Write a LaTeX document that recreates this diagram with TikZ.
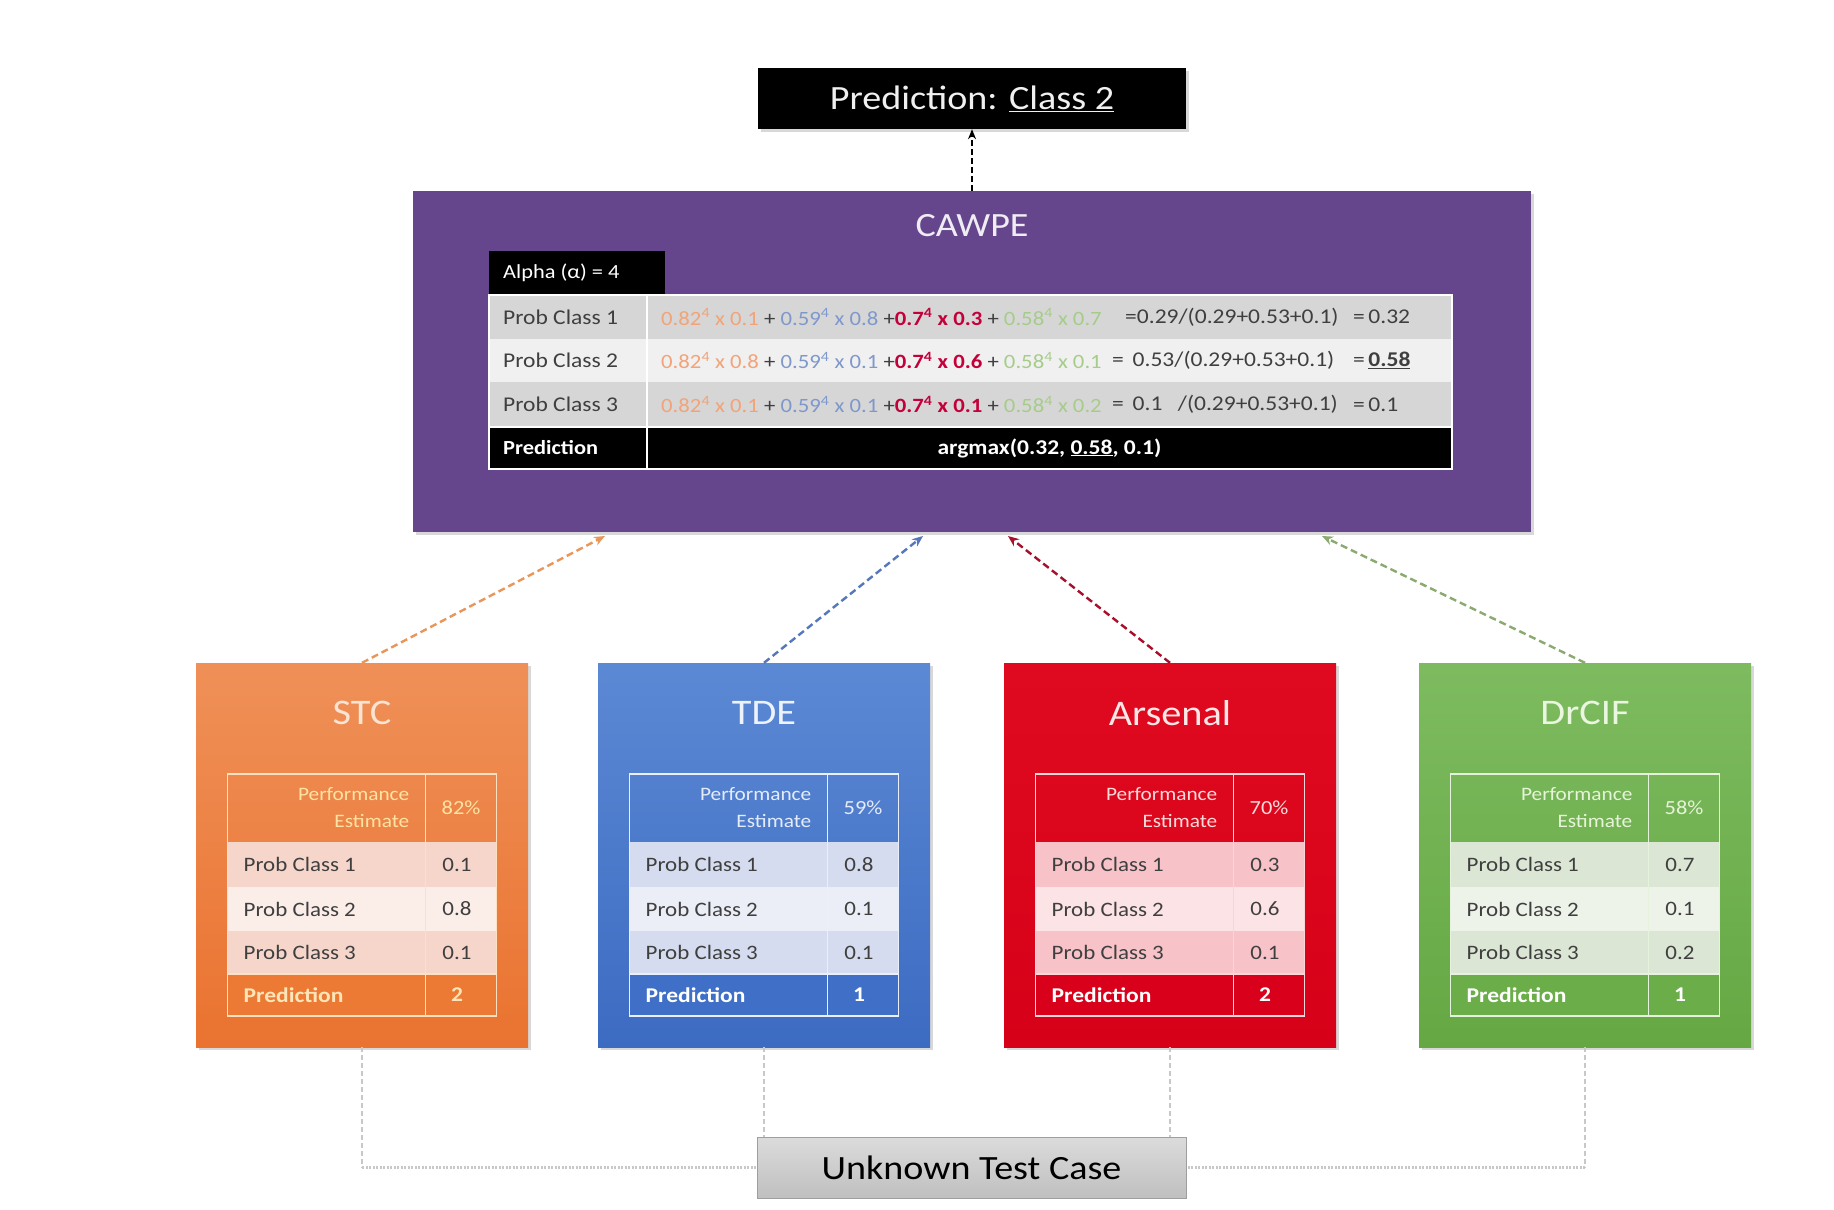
\documentclass[tikz,border=0pt]{standalone}
\usepackage{fontspec}
\setmainfont{Carlito}[FakeStretch=1.12]
\usetikzlibrary{arrows.meta,shadows,calc}

\definecolor{purp}{HTML}{65458B}
\definecolor{txtgray}{HTML}{3F3F3F}
\definecolor{cg1}{HTML}{D6D6D6}
\definecolor{cg2}{HTML}{F0F0F0}
\definecolor{corange}{HTML}{F2A378}
\definecolor{cblue}{HTML}{7F98CC}
\definecolor{cred}{HTML}{C4003A}
\definecolor{cgreen}{HTML}{A6CC8A}
% STC
\definecolor{stctop}{HTML}{EF9058}
\definecolor{stcbot}{HTML}{EA7330}
\definecolor{stcttl}{HTML}{FBE3D3}
\definecolor{stchd}{HTML}{FFE3A3}
\definecolor{stcln}{HTML}{FCE0C0}
\definecolor{stcra}{HTML}{F6D6CB}
\definecolor{stcrb}{HTML}{FBEDE8}
\definecolor{stcpr}{HTML}{EC7A34}
\definecolor{stcpt}{HTML}{FFE5B8}
% TDE
\definecolor{tdetop}{HTML}{5C89D4}
\definecolor{tdebot}{HTML}{3C6BC2}
\definecolor{tdettl}{HTML}{EEF2FB}
\definecolor{tdehd}{HTML}{E4ECFA}
\definecolor{tdeln}{HTML}{EAF0FB}
\definecolor{tdera}{HTML}{D5DCEF}
\definecolor{tderb}{HTML}{EBEEF7}
\definecolor{tdepr}{HTML}{3F6FC6}
\definecolor{tdept}{HTML}{FFFFFF}
% Arsenal
\definecolor{arstop}{HTML}{E00A20}
\definecolor{arsbot}{HTML}{D60018}
\definecolor{arsttl}{HTML}{FCE6E6}
\definecolor{arshd}{HTML}{FBDADA}
\definecolor{arsln}{HTML}{FAD4D7}
\definecolor{arsra}{HTML}{F7C3C8}
\definecolor{arsrb}{HTML}{FCE3E5}
\definecolor{arspr}{HTML}{D8001B}
\definecolor{arspt}{HTML}{FFFFFF}
% DrCIF
\definecolor{drctop}{HTML}{7EBB60}
\definecolor{drcbot}{HTML}{65A843}
\definecolor{drcttl}{HTML}{EAF6E0}
\definecolor{drchd}{HTML}{E6F4D8}
\definecolor{drcln}{HTML}{E6F3DC}
\definecolor{drcra}{HTML}{DCE6D4}
\definecolor{drcrb}{HTML}{EEF3EA}
\definecolor{drcpr}{HTML}{6BAE49}
\definecolor{drcpt}{HTML}{FFFFFF}
% connectors
\definecolor{aorange}{HTML}{E8965A}
\definecolor{ablue}{HTML}{5577BB}
\definecolor{ared}{HTML}{A8102A}
\definecolor{agreen}{HTML}{8BAA70}
\definecolor{lgray}{HTML}{C8C8C8}

\newcommand\terms[4]{{\color{corange}0.82\textsuperscript{4} x #1} + {\color{cblue}0.59\textsuperscript{4} x #2} +{\color{cred}\bfseries 0.7\textsuperscript{4} x #3} + {\color{cgreen}0.58\textsuperscript{4} x #4}}

% #1 name #2 centre x #3 colour prefix #4 title #5 pct #6 p1 #7 p2 #8 p3 #9 pred
\newcommand\clf[9]{%
  \node[clfbox, top color=#3top, bottom color=#3bot] (#1) at (#2,855) {};
  \node[clftitle, text=#3ttl] (#1t) at (#2,713) {#4};
  \fill[#3ra] (#2-134.5,842) rectangle (#2+134.5,887);
  \fill[#3rb] (#2-134.5,887) rectangle (#2+134.5,931);
  \fill[#3ra] (#2-134.5,931) rectangle (#2+134.5,974);
  \fill[#3pr] (#2-134.5,974) rectangle (#2+134.5,1016);
  \draw[#3ln, line width=1.5] (#2-134.5,774) rectangle (#2+134.5,1016)
     (#2+63.5,774) -- (#2+63.5,1016) (#2-134.5,974) -- (#2+134.5,974);
  \node[perf, text=#3hd] (#1pe) at (#2+47.5,808) {Performance\\Estimate};
  \node[pct, text=#3hd] (#1pc) at (#2+99,808) {#5};
  \node[rowlbl] (#1l1) at (#2-118.5,864.5) {Prob Class 1};
  \node[rowlbl] (#1l2) at (#2-118.5,909) {Prob Class 2};
  \node[rowlbl] (#1l3) at (#2-118.5,952.5) {Prob Class 3};
  \node[rowval] (#1v1) at (#2+95,864.5) {#6};
  \node[rowval] (#1v2) at (#2+95,909) {#7};
  \node[rowval] (#1v3) at (#2+95,952.5) {#8};
  \node[predlbl, text=#3pt] (#1pl) at (#2-118.5,995) {Prediction};
  \node[predval, text=#3pt] (#1pv) at (#2+95,995) {#9};
}

\begin{document}
\begin{tikzpicture}[x=1pt,y=-1pt,
  clfbox/.style={minimum width=332, minimum height=384, inner sep=0,
    drop shadow={opacity=0.3, shadow xshift=3pt, shadow yshift=-3pt}},
  clftitle/.style={font=\fontsize{36}{40}\selectfont, inner sep=0},
  perf/.style={font=\fontsize{19}{27}\selectfont, align=right, anchor=east, inner sep=0},
  pct/.style={font=\fontsize{20}{24}\selectfont, inner sep=0},
  rowlbl/.style={font=\fontsize{20.5}{24}\selectfont, text=txtgray, anchor=west, inner sep=0},
  rowval/.style={font=\fontsize{20.5}{24}\selectfont, text=txtgray, inner sep=0},
  predlbl/.style={font=\bfseries\fontsize{21}{24}\selectfont, anchor=west, inner sep=0},
  predval/.style={font=\bfseries\fontsize{21}{24}\selectfont, inner sep=0},
  ftxt/.style={font=\fontsize{21}{24}\selectfont, text=txtgray, anchor=west, inner sep=0},
  fterm/.style={ftxt, font=\fontsize{20.3}{24}\selectfont},
  arr/.style={line width=2.4, dash pattern=on 7pt off 4pt, -{Stealth[length=11pt,width=9pt]}},
  vline/.style={draw=lgray, line width=1.2, dash pattern=on 5pt off 3pt},
  hline/.style={draw=lgray, line width=3.5, dash pattern=on 2pt off 1.5pt},
]
\path[use as bounding box, fill=white] (0,0) rectangle (1834,1210);

% Prediction box
\node[fill=black, text=white!94!black, minimum width=428, minimum height=61, inner sep=0,
  font=\fontsize{34}{40}\selectfont,
  drop shadow={opacity=0.3, shadow xshift=3pt, shadow yshift=-3pt}] (pred) at (972,98.5)
  {Prediction: \underline{Class 2}};

% CAWPE
\node[fill=purp, minimum width=1118, minimum height=341, inner sep=0,
  drop shadow={opacity=0.3, shadow xshift=3pt, shadow yshift=-3pt}] (cawpe) at (972,361.5) {};
\node[text=white!90!purp, font=\fontsize{34}{40}\selectfont, inner sep=0] (cawpet) at (972,226) {CAWPE};
\node[fill=black, minimum width=176, minimum height=44, inner sep=0] (alpha) at (577,273) {};
\node[text=white, anchor=west, font=\fontsize{20}{24}\selectfont, inner sep=0] (alphat) at (503,273) {Alpha (α) = 4};

\fill[cg1] (489,295) rectangle (1452,339);
\fill[cg2] (489,339) rectangle (1452,382);
\fill[cg1] (489,382) rectangle (1452,427);
\fill[black] (489,427) rectangle (1452,469);
\draw[white, line width=2] (489,295) rectangle (1452,469) (647,295) -- (647,469) (489,427) -- (1452,427);

\node[ftxt] (cl1) at (503,317) {Prob Class 1};
\node[ftxt] (cl2) at (503,360.5) {Prob Class 2};
\node[ftxt] (cl3) at (503,404.5) {Prob Class 3};
\node[ftxt, text=white, font=\bfseries\fontsize{20}{24}\selectfont] (cpl) at (503,448) {Prediction};

\node[fterm] (f1) at (661,317) {\terms{0.1}{0.8}{0.3}{0.7}};
\node[fterm] (f2) at (661,360.5) {\terms{0.8}{0.1}{0.6}{0.1}};
\node[fterm] (f3) at (661,404.5) {\terms{0.1}{0.1}{0.1}{0.2}};
\node[ftxt] (e1) at (1125,317) {=0.29/(0.29+0.53+0.1)};
\node[ftxt] (e2) at (1112,360.5) {= \,0.53/(0.29+0.53+0.1)};
\node[ftxt] (e3) at (1112,404.5) {= \,0.1\hphantom{0}\,/(0.29+0.53+0.1)};
\node[ftxt] (r1) at (1353,317) {=\,0.32};
\node[ftxt] (r2) at (1353,360.5) {=\,\underline{\textbf{0.58}}};
\node[ftxt] (r3) at (1353,404.5) {=\,0.1};
\node[text=white, font=\bfseries\fontsize{21}{24}\selectfont, inner sep=0] (argm) at (1049.5,448)
  {argmax(0.32, \underline{0.58}, 0.1)};

% classifiers
\clf{stc}{362}{stc}{STC}{82\%}{0.1}{0.8}{0.1}{2}
\clf{tde}{764}{tde}{TDE}{59\%}{0.8}{0.1}{0.1}{1}
\clf{ars}{1170}{ars}{Arsenal}{70\%}{0.3}{0.6}{0.1}{2}
\clf{drc}{1585}{drc}{DrCIF}{58\%}{0.7}{0.1}{0.2}{1}

% test case
\node[top color=black!14, bottom color=black!25, draw=black!38, line width=1,
  minimum width=429, minimum height=61, inner sep=0, font=\fontsize{34}{40}\selectfont] (test) at (971.5,1167.5) {Unknown Test Case};

% connectors to CAWPE
\coordinate (c1) at (605,536);
\coordinate (c2) at (923,536);
\coordinate (c3) at (1008,536);
\coordinate (c4) at (1322,536);
\draw[arr, aorange] (stc.north) -- (c1);
\draw[arr, ablue] (tde.north) -- (c2);
\draw[arr, ared] (ars.north) -- (c3);
\draw[arr, agreen] (drc.north) -- (c4);
\draw[black, line width=2, dash pattern=on 6pt off 3pt, -{Stealth[length=10pt,width=8pt]}] (cawpe.north) -- (pred.south);

% test case lines
\draw[vline] (stc.south) -- (stc.south |- test.west);
\draw[hline] (stc.south |- test.west) -- (test.west);
\draw[vline] (tde.south) -- (tde.south |- test.north);
\draw[vline] (ars.south) -- (ars.south |- test.north);
\draw[vline] (drc.south) -- (drc.south |- test.east);
\draw[hline] (drc.south |- test.east) -- (test.east);
\end{tikzpicture}
\end{document}
